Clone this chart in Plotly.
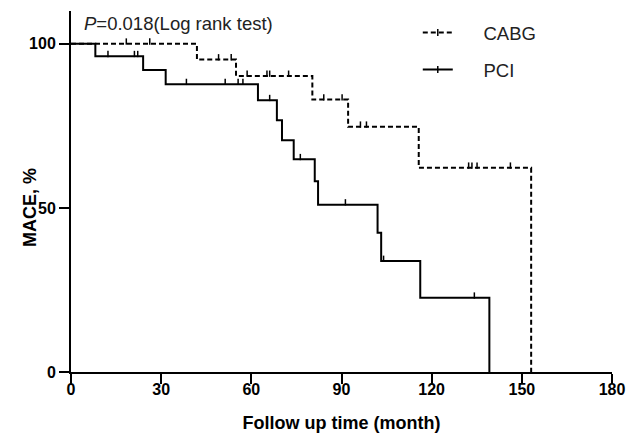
import numpy as np
import plotly.graph_objects as go

# ---- data (months, % event-free) ----
pci_time = [0, 8.1, 24.0, 31.5, 62.2, 68.5, 70.2, 74.1, 81.1, 82.2, 102.0, 103.2, 116.2, 139.2]
pci_surv = [100, 96.2, 92.0, 87.7, 82.8, 76.7, 70.6, 64.8, 58.1, 51.0, 42.4, 33.8, 22.6, 0]
pci_cens = [12.3, 21.1, 22.2, 38.4, 51.3, 55.6, 57.2, 66.1, 76.3, 91.3, 104.0, 134.2]

cabg_time = [0, 41.9, 54.9, 80.3, 92.2, 115.7, 153.1]
cabg_surv = [100, 95.2, 90.2, 83.0, 74.7, 62.2, 0]
cabg_cens = [18.4, 26.2, 49.1, 53.3, 58.6, 65.2, 66.1, 72.4, 84.1, 90.2, 96.3, 98.3,
             132.3, 133.4, 135.1, 146.2]

x_ticks = [0, 30, 60, 90, 120, 150, 180]
y_ticks = [0, 50, 100]
p_text = "<i>P</i>=0.018(Log rank test)"
x_title = "Follow up time (month)"
y_title = "MACE, %"
series_names = ["CABG", "PCI"]


def level_at(times, surv, t):
    idx = np.searchsorted(np.asarray(times), np.asarray(t), side="right") - 1
    return np.asarray(surv)[idx]


FONT = "Liberation Sans, Arial, sans-serif"
TICK_OFF = 0.7  # lift censor ticks so they sit on top of the curve
PAD = "\u00a0" * 5

fig = go.Figure()

# CABG (dashed)
fig.add_trace(go.Scatter(x=cabg_time, y=cabg_surv, mode="lines", line_shape="hv",
                         line=dict(color="black", width=2, dash="5px,3px"),
                         showlegend=False, hoverinfo="skip"))
fig.add_trace(go.Scatter(x=cabg_cens, y=level_at(cabg_time, cabg_surv, cabg_cens) + TICK_OFF,
                         mode="markers",
                         marker=dict(symbol="line-ns", size=4.5, line=dict(color="black", width=1.5)),
                         showlegend=False, hoverinfo="skip"))
# PCI (solid)
fig.add_trace(go.Scatter(x=pci_time, y=pci_surv, mode="lines", line_shape="hv",
                         line=dict(color="black", width=2),
                         showlegend=False, hoverinfo="skip"))
fig.add_trace(go.Scatter(x=pci_cens, y=level_at(pci_time, pci_surv, pci_cens) + TICK_OFF,
                         mode="markers",
                         marker=dict(symbol="line-ns", size=4.5, line=dict(color="black", width=1.5)),
                         showlegend=False, hoverinfo="skip"))

# legend entries
fig.add_trace(go.Scatter(x=[None], y=[None], mode="lines+markers", name=PAD + series_names[0],
                         legendgroup="a",
                         line=dict(color="black", width=2, dash="5px,3px"),
                         marker=dict(symbol="line-ns", size=5, line=dict(color="black", width=1.5))))
fig.add_trace(go.Scatter(x=[None], y=[None], mode="lines+markers", name=PAD + series_names[1],
                         legendgroup="b",
                         line=dict(color="black", width=2),
                         marker=dict(symbol="line-ns", size=5, line=dict(color="black", width=1.5))))

fig.add_annotation(text=p_text, xref="paper", yref="paper", x=0.02, y=0.964,
                   xanchor="left", yanchor="middle", showarrow=False,
                   font=dict(family=FONT, size=18.5, color="#222"))

# y-axis title placed as rotated annotation
fig.add_annotation(text="<b>" + y_title + "</b>", xref="paper", yref="paper",
                   x=-0.0758, y=0.457, xanchor="center", yanchor="middle",
                   textangle=-90, showarrow=False,
                   font=dict(family=FONT, size=18, color="black"))

axis_common = dict(showline=True, linecolor="black", linewidth=2,
                   ticks="outside", ticklen=10, tickwidth=2, tickcolor="black",
                   showgrid=False, zeroline=False, automargin=False,
                   tickfont=dict(family=FONT, size=16, color="black", weight="bold"))

fig.update_xaxes(range=[0, 180], tickvals=x_ticks, ticktext=[str(v) for v in x_ticks],
                 ticklabelstandoff=-8,
                 title=dict(text="<b>" + x_title + "</b>", standoff=19,
                            font=dict(family=FONT, size=18, color="black")),
                 **axis_common)
fig.update_yaxes(range=[0, 110], tickvals=y_ticks, ticktext=[str(v) for v in y_ticks],
                 **axis_common)

fig.update_layout(
    width=629, height=434,
    margin=dict(l=71, r=17, t=11, b=62),
    plot_bgcolor="white", paper_bgcolor="white",
    showlegend=True,
    legend=dict(x=0.641, y=0.992, xanchor="left", yanchor="top",
                font=dict(family=FONT, size=18.5, color="#222"),
                bgcolor="rgba(0,0,0,0)", tracegroupgap=10,
                traceorder="grouped"),
)

fig.write_html("out.html", config={"displayModeBar": False},
               post_script="document.body.style.margin='0';")
